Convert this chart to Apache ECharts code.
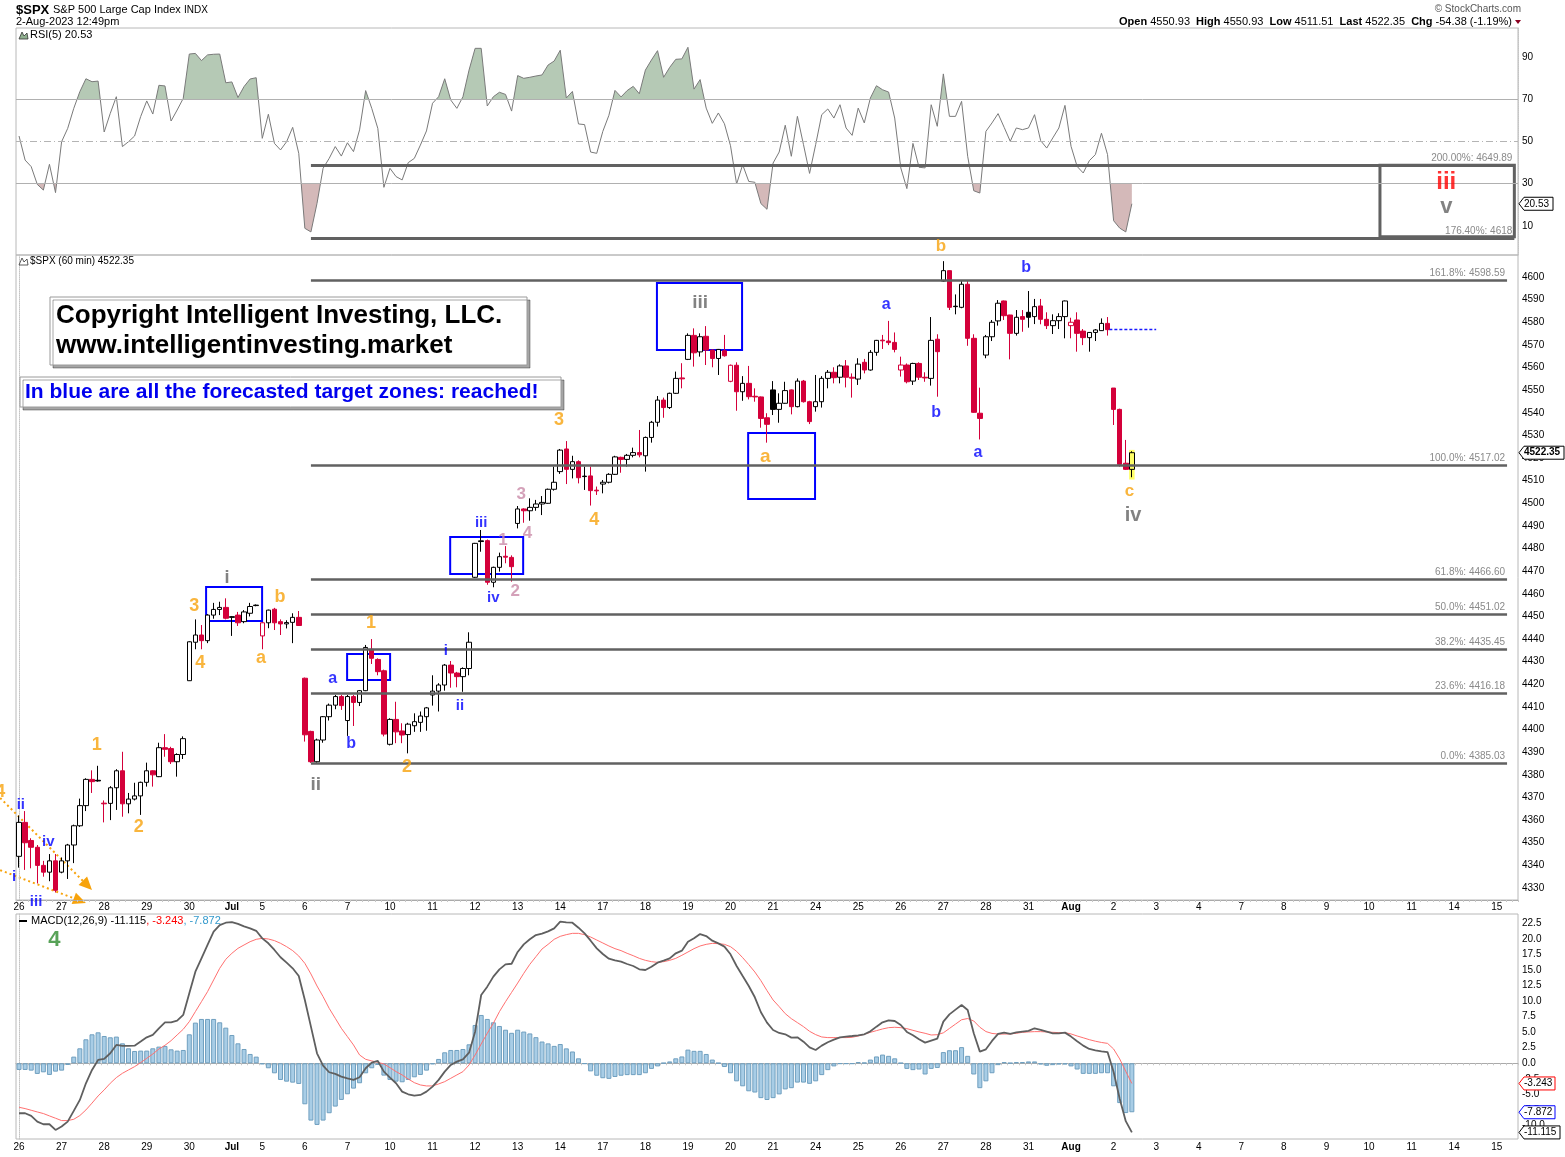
<!DOCTYPE html>
<html>
<head>
<meta charset="utf-8">
<title>$SPX 60 min</title>
<script src="https://cdn.jsdelivr.net/npm/echarts@6/dist/echarts.min.js"></script>
<style>
html,body{margin:0;padding:0;background:#fff;}
#chart{width:1565px;height:1157px;}
</style>
</head>
<body>
<div id="chart"></div>
<script>
// ================= DATA =================
const dayLabels = ['26','27','28','29','30','Jul','5','6','7','10','11','12','13','14','17','18','19','20','21','24','25','26','27','28','31','Aug','2','3','4','7','8','9','10','11','14','15'];
const dayBars   = [7,7,7,7,7,5,7,7,7,7,7,7,7,7,7,7,7,7,7,7,7,7,7,7,7,7,7,7,7,7,7,7,7,7,7,4];

const open = [
4344,4359,4351,4348,4340,4337,4342,4337,4342,4349,
4357.5,4366.4,4378,4377.6,4367.5,4367.4,4374.3,4381.8,4367.2,4369.3,
4370.7,4376.7,4381.8,4379.2,4392,4391.6,4385.8,4389,4421.6,4438.6,
4441.8,4439.3,4450.6,4453.1,4454,4449.9,4450.6,4447.7,4451.4,4455,
4441.4,4447.2,4453.2,4447.7,4446.7,4447.4,4449.6,4422.7,4399.2,4385.8,
4395.4,4405.7,4410.8,4414.6,4404,4414.6,4412,4417.2,4435.5,4431,
4426,4393.5,4404.5,4399.4,4397.8,4401.7,4403.2,4405.7,4415.3,4417,
4419.7,4428.5,4425,4423.4,4427,4467.3,4483.4,4483.5,4465.1,4471.7,
4476.6,4476.1,4491.1,4497.5,4496.7,4498.2,4499.7,4500,4506.2,4514,
4524,4515,4518.4,4512,4512.1,4505.8,4508.5,4509.3,4512.8,4520.3,
4519.4,4521.2,4522.4,4521,4529.1,4535.8,4545.6,4542.3,4548.6,4555.4,
4563.6,4574.2,4566.9,4573.8,4567.7,4564,4567.4,4553.9,4561,4549.3,
4553,4547.3,4547,4537.8,4550.1,4541.5,4544.2,4550.1,4542.7,4554,
4544.9,4542.7,4544.9,4555.2,4557.9,4555.7,4560.7,4555.7,4554.9,4562.3,
4558.9,4566.7,4572.1,4571.7,4571.1,4558.9,4561.1,4554,4561.8,4555.7,
4555.2,4572.5,4598.2,4602.8,4587.1,4586.6,4596.8,4572.9,4539.8,4565.5,
4573.6,4580.6,4589.4,4583.2,4575.1,4582.5,4584.4,4582.5,4587.2,4581.3,
4578.5,4580.7,4582.5,4578.5,4581,4576.1,4573.2,4575.5,4576.3,4579.5,
4550.93,4541.5,4517.7,4515];
const high = [
4362,4364,4352,4349,4342,4345,4345,4343.5,4349.5,4358,
4369.5,4378.5,4382,4384,4368.7,4375,4382.5,4390.2,4372,4376.5,
4377,4385.4,4382,4394.2,4398,4392.4,4389.5,4397,4439,4448.7,
4446.2,4451,4456,4456.5,4458,4450.2,4452,4452.8,4456,4455.3,
4447.5,4453,4453.8,4448.7,4448.3,4451.4,4452.4,4423,4399.5,4396,
4406,4411.5,4415.3,4415.3,4415.3,4415.3,4417.5,4437.4,4440,4431.5,
4426.5,4405,4412.3,4402.8,4403,4407.2,4408,4410,4424,4420.5,
4429,4430.3,4425.5,4427.5,4443,4482.5,4488.2,4484,4472,4478.2,
4481.1,4477,4498.8,4497.8,4502.2,4501.5,4503.2,4506.5,4516.2,4524,
4527.5,4521,4519,4516.2,4516.2,4507.4,4510.3,4513.3,4521,4520.6,
4521.8,4524.6,4532.4,4529.5,4536.4,4547.4,4546.7,4548.9,4558.2,4561.9,
4575.1,4577.3,4575.1,4578.3,4568,4568.2,4574.4,4561.3,4562.3,4556.2,
4560.7,4550.8,4547.2,4539.8,4554,4548.6,4553.7,4550.3,4555.2,4554.5,
4545.3,4556.7,4556.2,4558.9,4560.1,4561.4,4563.3,4557.4,4564.1,4563.8,
4567.7,4572.2,4574.4,4580.6,4575.5,4564.8,4561.8,4562.1,4562.3,4557.9,
4582.3,4574.7,4607,4603,4592.3,4598.2,4598.2,4574.7,4551.1,4574.4,
4581,4589.8,4589.6,4583.3,4585.4,4585.4,4593.8,4590.3,4590.3,4584.4,
4583.5,4584,4589.6,4582,4584.4,4577,4575.7,4577,4581.7,4582.3,
4550.93,4541.8,4528,4523];
const low = [
4339,4338,4338.7,4332,4335,4333,4328,4336.5,4334,4341,
4357,4364,4372,4377,4359,4360,4364.5,4361.5,4363,4368.7,
4362.3,4374.8,4374.8,4379,4388,4384.8,4379.2,4387,4421.5,4435.5,
4435.5,4438.2,4449,4450.6,4448.7,4441.4,4445.8,4447,4450,4454.5,
4435.5,4444.8,4444,4441.8,4444.7,4438.2,4445.8,4394.7,4385.3,4385.3,
4394.2,4404,4409,4408.7,4397.2,4401.6,4410.4,4417,4429,4424,
4397,4393,4394,4394,4389.5,4399,4399,4399.5,4410.6,4408,
4417.2,4418.5,4418.7,4416.7,4424,4467,4478.6,4464,4462.9,4469.8,
4473.5,4465.4,4488.9,4491.4,4492.3,4496.7,4494.8,4499.8,4505.6,4513,
4508.5,4511,4508.8,4505.9,4499,4503.7,4504.4,4508.8,4512.5,4513.5,
4516.2,4520.3,4520.3,4514,4526.8,4533.9,4537.8,4541.7,4548.3,4550.8,
4563.3,4560.4,4564.8,4561.1,4560.1,4556.7,4564.8,4553.5,4540.9,4545.3,
4545.9,4544.9,4533.4,4526.8,4539,4535.6,4544,4539.3,4542.4,4544.5,
4535,4540.5,4542.3,4550.8,4553,4553,4551.2,4546.7,4552.3,4557.4,
4558.6,4565.2,4568.2,4569.9,4566.7,4556,4553,4552.3,4554.5,4553.7,
4552,4547.1,4597.9,4585.4,4583.5,4586.2,4569.6,4540,4528.2,4564.1,
4571.7,4578.5,4581,4563.6,4574.1,4575.8,4577.6,4579.2,4579.1,4577,
4574.8,4577,4572.9,4572.9,4567,4569.9,4567,4571.7,4576.2,4574.1,
4534.6,4516.2,4514.7,4511.51];
const close = [
4359,4350,4348,4340,4337,4342,4329,4342,4349,4357.5,
4366.4,4378,4377,4377.3,4367.2,4374.3,4381.8,4367.2,4369.3,4370.7,
4376.7,4381.8,4380,4392,4391.3,4385.8,4389,4396,4438.8,4441.8,
4439.3,4450.6,4453.1,4454,4449.2,4449.6,4447.2,4452,4454.4,4454.8,
4447.2,4452.8,4447.2,4446.7,4447.3,4449.6,4446,4397.7,4385.8,4395.4,
4405.7,4410.8,4414.6,4410.6,4414.6,4412,4417.2,4436.3,4431.5,4425.6,
4398,4404.5,4399,4397.6,4402.4,4403.5,4406,4409.6,4417,4419.7,
4428.5,4425,4423.4,4427,4438.6,4482.3,4483.1,4465.1,4471.7,4476.4,
4476.2,4472,4497.5,4496.7,4498.2,4499.7,4500.4,4506.2,4509.3,4523.5,
4515,4518.4,4511.3,4511.8,4505.6,4505.5,4509.3,4512.8,4520.5,4519.4,
4521.2,4522.4,4521.4,4529.1,4535.8,4545.6,4542.3,4548.6,4555.2,4555.0,
4574.2,4566.5,4573.6,4567.7,4564,4568,4565.2,4561,4549.3,4553,
4547.1,4547.0,4537.5,4534.9,4541.5,4544.2,4549.8,4542.7,4554,4544.9,
4536.1,4544.9,4555.2,4557.9,4555.5,4560.7,4555.7,4555.3,4561.5,4558.9,
4566.7,4572,4571.8,4571,4568,4561.1,4553.7,4561.8,4555.7,4555.4,
4572,4567,4602.8,4586.6,4586.9,4596.8,4572.9,4540.2,4537.5,4573.6,
4580,4588.4,4582.9,4575.1,4582.2,4581.3,4582.2,4586.9,4581.3,4578.5,
4580.7,4582.5,4589.4,4580,4575.1,4573.2,4575.5,4576.6,4579.5,4576.73,
4541.5,4517.2,4515,4522.35];

const rsi = [
52.6,41.2,38.1,29.7,27.0,39.2,25.8,49.9,56.2,65.7,
73.6,79.7,78.3,78.6,54.5,63.3,71.2,47.6,49.9,52.6,
61.8,69.2,63.0,76.6,76.3,59.7,64.9,70.4,91.4,91.7,
88.3,91.0,91.3,91.4,77.8,78.2,70.8,76.0,79.6,80.2,
51.5,62.9,49.1,46.0,49.9,56.7,44.4,8.9,7.2,20.7,
37.3,42.0,47.6,43.1,49.4,45.2,55.5,74.1,65.7,56.2,
28.3,37.3,33.4,31.8,40.0,42.0,48.3,55.0,68.1,71.2,
79.7,69.6,65.7,71.2,83.8,94.1,94.1,66.8,71.2,73.3,
72.3,64.4,81.2,79.9,80.4,81.0,81.5,86.2,88.1,93.2,
70.6,73.7,58.3,58.0,45.0,44.4,54.8,62.4,74.2,71.1,
74.1,76.1,72.6,83.8,88.6,93.0,80.4,85.1,88.9,89.1,
94.6,74.8,79.3,65.8,58.6,63.5,58.4,48.0,29.9,39.0,
31.1,30.7,20.6,17.9,39.8,45.0,57.7,43.0,61.9,48.5,
34.9,48.5,62.7,65.4,61.1,67.4,56.4,52.9,65.8,58.8,
70.6,76.4,74.5,73.4,61.1,37.5,27.7,49.1,37.8,37.5,
67.4,57.2,82.0,61.9,61.9,69.0,43.0,26.7,25.6,54.8,
58.8,63.2,56.7,50.1,56.4,55.6,56.4,62.7,50.4,46.9,
51.7,56.4,67.1,47.7,38.2,35.1,40.9,43.8,53.9,43.8,
12.5,9.0,7.2,20.53];

const macd = [
-8.03,-8.03,-8.46,-9.37,-9.80,-9.80,-10.71,-10.17,-9.37,-7.65,
-5.89,-3.21,-1.07,0.54,0.70,1.61,2.95,2.79,2.79,2.84,
3.49,4.18,4.56,5.63,6.59,6.59,6.86,7.77,11.25,14.73,
16.88,19.02,21.16,22.2,22.6,22.7,22.4,22.0,21.7,21.3,
20.09,19.29,18.22,17.04,16.18,15.27,14.04,10.18,5.90,1.61,
-0.37,-1.44,-1.71,-2.14,-2.41,-2.67,-2.25,-0.80,0.11,0.38,
-1.34,-2.30,-3.21,-4.55,-4.98,-5.20,-5.09,-4.55,-3.75,-2.67,
-1.34,-0.27,0.27,0.64,1.71,5.09,10.98,12.32,13.93,15.1,
15.9,16.0,17.9,19.12,19.93,20.62,20.84,21.21,21.69,22.77,
22.66,22.60,21.80,20.89,19.71,18.48,17.57,16.82,16.55,16.34,
15.96,15.64,15.11,15.0,15.53,16.18,16.50,16.87,17.68,18.11,
19.55,20.09,20.78,20.46,19.71,19.28,18.75,17.52,15.64,14.03,
12.43,10.61,8.20,6.54,5.36,4.88,4.66,4.13,4.18,3.48,
2.57,2.14,2.84,3.38,3.80,4.18,4.29,4.39,4.50,4.66,
5.14,5.89,6.59,6.91,6.80,6.16,5.04,4.50,3.86,3.32,
3.64,3.96,6.70,7.87,8.63,9.37,8.57,4.82,1.88,2.25,
3.59,4.72,4.93,4.72,4.98,5.09,5.20,5.63,5.36,5.09,
4.82,4.82,4.93,4.29,3.54,2.84,2.30,2.09,1.93,1.8,
-1.4,-5.7,-9.3,-11.115];

const signal = [
-7.07,-7.28,-7.55,-7.82,-8.08,-8.46,-8.83,-9.21,-9.21,-9.0,
-8.4,-7.5,-6.4,-5.25,-4.28,-3.21,-2.30,-1.61,-1.07,-0.54,
0.11,0.80,1.50,2.30,2.89,3.64,4.56,5.47,6.70,8.31,
9.91,11.52,13.40,15.27,16.72,17.68,18.48,19.02,19.55,19.93,
20.09,19.98,19.72,19.29,18.75,18.11,17.25,16.07,14.36,12.43,
10.72,8.84,7.24,5.63,4.29,2.95,1.34,0.64,0.38,0.16,
-0.11,-0.70,-1.34,-1.87,-2.52,-3.11,-3.48,-3.64,-3.64,-3.32,
-2.95,-2.41,-1.87,-1.34,-0.27,1.34,3.11,4.82,6.43,8.3,
9.9,11.4,12.9,14.46,15.91,17.14,18.37,19.12,19.93,20.41,
20.68,20.89,20.89,20.68,20.30,19.82,19.34,18.86,18.43,18.11,
17.68,17.30,16.87,16.55,16.34,16.23,16.34,16.55,16.87,17.36,
17.89,18.43,18.86,19.12,19.28,19.23,19.12,18.75,18.0,16.98,
15.86,14.68,13.28,11.68,10.18,9.11,7.98,7.18,6.54,5.89,
5.14,4.61,4.23,4.13,4.13,4.13,4.13,4.18,4.39,4.66,
4.98,5.25,5.52,5.73,5.79,5.73,5.57,5.30,5.04,4.82,
4.55,4.6,4.9,5.6,6.3,7.0,7.2,6.8,5.8,5.1,
4.8,4.7,4.7,4.72,4.82,4.98,5.04,5.09,5.09,5.04,
4.98,4.93,4.93,4.72,4.39,4.1,3.8,3.55,3.35,3.2,
2.3,0.7,-1.3,-3.243];

const hist = [
-1.07,-1.07,-1.18,-1.71,-1.45,-1.87,-1.34,-1.18,-0.27,1.07,
2.41,3.86,4.66,4.98,4.39,4.18,4.29,3.21,2.41,1.98,
2.04,2.04,2.41,2.68,2.79,2.25,2.04,2.14,4.66,6.54,
7.13,7.13,7.13,6.59,5.73,4.55,3.21,2.30,1.50,1.07,
-0.16,-0.80,-1.61,-2.68,-2.95,-3.11,-3.32,-6.59,-9.21,-9.91,
-9.21,-8.03,-6.96,-5.89,-4.98,-4.07,-3.21,-1.61,-0.80,-0.27,
-1.98,-2.68,-2.95,-3.05,-2.68,-2.25,-1.87,-1.18,-0.16,0.70,
1.77,2.14,2.14,2.30,3.05,6.16,7.77,7.13,6.59,6.0,
5.4,4.9,5.4,5.1,4.8,4.2,3.5,3.2,2.8,3.1,
2.4,1.9,0.8,-0.1,-1.3,-2.0,-2.4,-2.5,-2.2,-2.0,
-1.9,-1.9,-1.9,-1.6,-0.9,-0.5,0.05,0.3,0.8,1.1,
2.2,2.0,2.0,1.5,0.6,0.05,-0.6,-1.6,-2.9,-3.7,
-4.5,-4.7,-5.6,-5.9,-5.6,-5.0,-4.2,-4.0,-3.1,-3.1,
-3.3,-2.9,-1.9,-1.1,-0.5,-0.1,-0.1,-0.1,0.2,0.1,
0.6,1.1,1.4,1.2,0.8,0.05,-0.9,-1.1,-1.0,-1.8,
-0.9,-0.75,1.8,2.1,2.1,2.6,1.2,-1.8,-4.0,-2.9,
-1.6,-0.3,0.2,0.05,0.2,0.2,0.3,0.3,-0.2,-0.4,
-0.3,-0.2,-0.2,-0.5,-1.0,-1.7,-1.7,-1.7,-1.6,-1.6,
-3.7,-6.4,-8.0,-7.872];

const rsiTicks   = [10,30,50,70,90];
const priceTicks = [4330,4340,4350,4360,4370,4380,4390,4400,4410,4420,4430,4440,4450,4460,4470,4480,4490,4500,4510,4520,4530,4540,4550,4560,4570,4580,4590,4600];
const macdTicks  = [-10,-7.5,-5,-2.5,0,2.5,5,7.5,10,12.5,15,17.5,20,22.5];

const fibLevels = [
  {pct:'161.8%', v:4598.59},{pct:'100.0%', v:4517.02},{pct:'61.8%', v:4466.60},
  {pct:'50.0%', v:4451.02},{pct:'38.2%', v:4435.45},{pct:'23.6%', v:4416.18},{pct:'0.0%', v:4385.03}];
const fibExt = [{pct:'200.00%', v:4649.89},{pct:'176.40%', v:4618}];
const prevClose = 4576.73;
const lastRsi = 20.53, lastPrice = 4522.35, lastMacd = -11.115, lastSignal = -3.243, lastHist = -7.872;
const rsiUpper = 70, rsiLower = 30;

// ================= ANNOTATIONS (bar index, value) =================
const ORANGE='#f7a30c', BLUE='#0000ff', GRAY='#636363', MAUVE='#c98aa8', GREEN='#2e8b2e', REDT='#ff0000';
const priceLabels = [
  {t:'4',x:-3.1,y:4372.4,c:ORANGE,s:18},{t:'1',x:12.8,y:4393.2,c:ORANGE,s:18},{t:'2',x:19.7,y:4357.0,c:ORANGE,s:18},
  {t:'3',x:28.8,y:4454.6,c:ORANGE,s:18},{t:'4',x:29.8,y:4429.4,c:ORANGE,s:18},{t:'b',x:42.9,y:4458.6,c:ORANGE,s:18},
  {t:'a',x:39.8,y:4431.6,c:ORANGE,s:18},{t:'1',x:57.9,y:4447.1,c:ORANGE,s:18},{t:'2',x:63.8,y:4383.5,c:ORANGE,s:18},
  {t:'3',x:88.8,y:4536.8,c:ORANGE,s:18},{t:'4',x:94.6,y:4492.6,c:ORANGE,s:18},{t:'a',x:122.7,y:4520.5,c:ORANGE,s:19},
  {t:'b',x:151.6,y:4613.7,c:ORANGE,s:17},{t:'c',x:182.6,y:4505.4,c:ORANGE,s:17},
  {t:'ii',x:0.3,y:4366.7,c:BLUE,s:15},{t:'iv',x:4.8,y:4350.3,c:BLUE,s:15},{t:'i',x:-0.8,y:4334.9,c:BLUE,s:15},
  {t:'iii',x:2.8,y:4323.8,c:BLUE,s:15},{t:'a',x:51.6,y:4422.4,c:BLUE,s:16},{t:'b',x:54.6,y:4393.6,c:BLUE,s:16},
  {t:'i',x:70.2,y:4434.7,c:BLUE,s:15},{t:'ii',x:72.5,y:4410.4,c:BLUE,s:15},{t:'iii',x:76.0,y:4491.3,c:BLUE,s:15},
  {t:'iv',x:78.0,y:4458.2,c:BLUE,s:15},{t:'a',x:142.6,y:4587.6,c:BLUE,s:16},{t:'b',x:150.8,y:4540.3,c:BLUE,s:16},
  {t:'a',x:157.7,y:4522.2,c:BLUE,s:16},{t:'b',x:165.6,y:4604.0,c:BLUE,s:16},
  {t:'i',x:34.2,y:4467.0,c:GRAY,s:18},{t:'ii',x:48.8,y:4375.5,c:GRAY,s:19},{t:'iii',x:112.0,y:4588.5,c:GRAY,s:19},
  {t:'iv',x:183.2,y:4494.8,c:GRAY,s:20},
  {t:'3',x:82.6,y:4504.1,c:MAUVE,s:17},{t:'4',x:83.6,y:4486.9,c:MAUVE,s:17},{t:'1',x:79.6,y:4483.8,c:MAUVE,s:17},
  {t:'2',x:81.6,y:4461.3,c:MAUVE,s:17}
];
const macdLabels = [{t:'4',x:5.8,y:19.8,c:GREEN,s:22}];
const rsiExtLabels = [{t:'iii',x:234.7,y:4642.4,c:REDT,s:24},{t:'v',x:234.7,y:4631.8,c:GRAY,s:22}];
const targetBoxes = [[30.76,4463.0,39.97,4448.0],[53.95,4433.4,61.02,4421.9],[70.9,4485.1,82.9,4468.8],[104.9,4597.3,118.9,4567.7],[119.9,4531.1,130.9,4501.9]];
const extBox = [223.8,4649.9,245.9,4618.6];
const arrows = [[-3.1,4369.8,12.0,4329.1],[-3.1,4337.9,11.0,4323.4]];

// ================= BUILD =================
const FONT = '"Liberation Sans", Arial, Helvetica, sans-serif';
const cats = []; const dayStart = {};
dayLabels.forEach((d, di) => { for (let k = 0; k < dayBars[di]; k++) { if (k === 0) dayStart[cats.length] = d; cats.push(di + '_' + k); } });
const N = cats.length;
const CRED = '#d4003a';

const candleData = open.map((o, i) => {
  const c = close[i]; const prev = i > 0 ? close[i - 1] : o;
  const stroke = c >= prev ? '#000' : CRED;
  let fill = c >= o ? '#fff' : stroke;
  if (i === open.length - 1) fill = '#ffff66';
  return {value: [o, c, low[i], high[i]], itemStyle: {color: fill, color0: fill, borderColor: stroke, borderColor0: stroke, borderWidth: 1}};
});

const GL = 16, GR = 47;
const labelSeries = (arr, xi, yi) => ({
  type: 'scatter', xAxisIndex: xi, yAxisIndex: yi, symbolSize: 1, clip: false, silent: true, z: 20,
  itemStyle: {color: 'rgba(0,0,0,0)'},
  label: {show: true, position: 'inside', fontWeight: 'bold', fontFamily: FONT, formatter: p => p.data.t},
  data: arr.map(a => ({value: [a.x, a.y], t: a.t, label: {color: a.c, fontSize: a.s}}))
});
const dayAxisLabel = (margin) => ({
  interval: (i) => dayStart[i] !== undefined,
  formatter: (v, i) => { const d = dayStart[i]; return (d === 'Jul' || d === 'Aug') ? '{b|' + d + '}' : d; },
  fontSize: 10, color: '#000', margin: margin, fontFamily: FONT,
  rich: {b: {fontWeight: 'bold', fontSize: 10, fontFamily: FONT}}
});
const catAxis = (g, show, margin) => ({
  type: 'category', gridIndex: g, data: cats, boundaryGap: true, show: show,
  axisLine: {show: true, lineStyle: {color: '#aaa'}},
  axisTick: {show: true, interval: 0, length: 2, lineStyle: {color: '#c8c8c8'}},
  axisLabel: dayAxisLabel(margin), splitLine: {show: false}
});
const valX = (g) => ({type: 'value', gridIndex: g, min: -0.5, max: N - 0.5, show: false});
const rightY = (g, min, max, ticks, fmt) => ({
  type: 'value', gridIndex: g, position: 'right', min: min, max: max,
  axisLine: {show: true, lineStyle: {color: '#c4c4c4', type: 'dotted'}},
  axisTick: {show: false},
  axisLabel: {customValues: ticks, fontSize: 10, color: '#000', margin: 4, fontFamily: FONT, formatter: fmt},
  splitLine: {show: false}
});

const fibLine = (f, x0, x1) => [
  {coord: [x0, f.v], label: {show: true, position: 'insideEndTop', formatter: f.pct + ': ' + f.v.toFixed(2), color: '#8a8a8a', fontSize: 10, fontFamily: FONT, distance: 2}},
  {coord: [x1, f.v]}];

const option = {
  animation: false,
  backgroundColor: '#fff',
  textStyle: {fontFamily: FONT},
  grid: [
    {left: GL, right: GR, top: 28, height: 227, show: true, borderColor: '#b8b8b8', borderWidth: 1},
    {left: GL, right: GR, top: 255, height: 645, show: true, borderColor: '#b8b8b8', borderWidth: 1},
    {left: GL, right: GR, top: 914, height: 225, show: true, borderColor: '#b8b8b8', borderWidth: 1},
    {left: GL, right: GR, top: 28, height: 227, show: false}
  ],
  xAxis: [
    catAxis(0, false, 2), catAxis(1, true, 2), catAxis(2, true, 3),
    valX(1), valX(2), valX(3)
  ],
  yAxis: [
    rightY(0, -3.73, 103.73, rsiTicks, v => String(v)),
    rightY(1, 4324.70, 4609.72, priceTicks, v => String(v)),
    rightY(2, -12.17, 24.0, macdTicks, v => v.toFixed(1)),
    {type: 'value', gridIndex: 3, min: 4610.6, max: 4710.03, show: false}
  ],
  series: [
    {id: 'rsiUp', type: 'line', xAxisIndex: 0, yAxisIndex: 0, data: rsi, symbol: 'none', silent: true, z: 1,
     lineStyle: {width: 0, opacity: 0}, areaStyle: {opacity: 0, origin: 'start'}},
    {id: 'rsiDn', type: 'line', xAxisIndex: 0, yAxisIndex: 0, data: rsi, symbol: 'none', silent: true, z: 1,
     lineStyle: {width: 0, opacity: 0}, areaStyle: {opacity: 0, origin: 'end'}},
    {type: 'line', xAxisIndex: 0, yAxisIndex: 0, data: rsi, symbol: 'none', silent: true, z: 3,
     lineStyle: {color: '#7a7a7a', width: 1},
     markLine: {silent: true, symbol: 'none', label: {show: false}, animation: false,
       lineStyle: {color: '#b0b0b0', width: 1, type: 'solid'},
       data: [{yAxis: rsiUpper}, {yAxis: rsiLower}, {yAxis: 50, lineStyle: {type: [7, 3, 1, 3], color: '#b4b4b4'}}]}},
    {type: 'candlestick', xAxisIndex: 1, yAxisIndex: 1, data: candleData, barWidth: 5, z: 4, silent: true},
    {type: 'line', xAxisIndex: 3, yAxisIndex: 1, data: [], z: 1, silent: true, clip: false,
     markArea: {silent: true, itemStyle: {color: '#ffff66'}, data: [[{coord: [182.55, 4510.5]}, {coord: [183.45, 4523.6]}]]}},
    {type: 'line', xAxisIndex: 3, yAxisIndex: 1, data: [], z: 5, silent: true, clip: false,
     markLine: {silent: true, animation: false, symbol: 'none',
       lineStyle: {color: '#616161', width: 2.5, type: 'solid'},
       data: fibLevels.map(f => fibLine(f, 48, 244.7))},
     markArea: {silent: true, itemStyle: {color: 'rgba(0,0,0,0)', borderColor: BLUE, borderWidth: 2},
       data: targetBoxes.map(b => [{coord: [b[0], b[1]]}, {coord: [b[2], b[3]]}])}},
    {type: 'line', xAxisIndex: 3, yAxisIndex: 1, data: [], z: 6, silent: true, clip: false,
     markLine: {silent: true, animation: false, symbol: 'none', label: {show: false},
       lineStyle: {color: '#1a1aff', width: 1.3, type: [3, 2]},
       data: [[{coord: [179.3, prevClose]}, {coord: [187, prevClose]}]]}},
    labelSeries(priceLabels, 3, 1),
    {type: 'bar', xAxisIndex: 2, yAxisIndex: 2, data: hist, barWidth: 5, silent: true, z: 2,
     itemStyle: {color: '#a8cde6', borderColor: '#6f9fbf', borderWidth: 1}},
    {type: 'line', xAxisIndex: 2, yAxisIndex: 2, data: signal, symbol: 'none', silent: true, z: 3,
     lineStyle: {color: '#ff7070', width: 1}},
    {type: 'line', xAxisIndex: 2, yAxisIndex: 2, data: macd, symbol: 'none', silent: true, z: 4,
     lineStyle: {color: '#5f5f5f', width: 1.8}},
    labelSeries(macdLabels, 4, 2),
    {type: 'line', xAxisIndex: 5, yAxisIndex: 3, data: [], z: 5, silent: true, clip: false,
     markLine: {silent: true, animation: false, symbol: 'none',
       lineStyle: {color: '#616161', width: 3, type: 'solid'},
       data: fibExt.map(f => [
         {coord: [48, f.v], label: {show: true, position: 'insideEndTop', formatter: f.pct + ': ' + (f.v % 1 ? f.v.toFixed(2) : String(f.v)), color: '#8a8a8a', fontSize: 10, fontFamily: FONT, distance: 2}},
         {coord: [245.9, f.v]}])},
     markArea: {silent: true, itemStyle: {color: 'rgba(0,0,0,0)', borderColor: '#616161', borderWidth: 3},
       data: [[{coord: [extBox[0], extBox[1]]}, {coord: [extBox[2], extBox[3]]}]]}},
    labelSeries(rsiExtLabels, 5, 3)
  ]
};

const chart = echarts.init(document.getElementById('chart'), null, {renderer: 'canvas', width: 1565, height: 1157});
chart.setOption(option);

// ---- RSI overbought / oversold fills: hard-stop gradients placed at the axis pixels of 70 / 30
const yPix = (axis, v) => chart.convertToPixel({yAxisIndex: axis}, v);
const xPix = (axis, v) => chart.convertToPixel({xAxisIndex: axis}, v);
const rsiTop = yPix(0, 103.73), rsiBot = yPix(0, -3.73);
const yUp = yPix(0, rsiUpper), yDn = yPix(0, rsiLower);
const GUP = '#b5c9b5', GDN = '#d4b9b9', TR = 'rgba(255,255,255,0)';
const fUp = (yUp - rsiTop) / (rsiBot - rsiTop), fDn = (yDn - rsiTop) / (rsiBot - rsiTop);
chart.setOption({series: [
  {id: 'rsiUp', areaStyle: {opacity: 1, origin: 'start', color: {type: 'linear', global: true, x: 0, y: rsiTop, x2: 0, y2: rsiBot,
    colorStops: [{offset: 0, color: GUP}, {offset: fUp, color: GUP}, {offset: fUp, color: TR}, {offset: 1, color: TR}]}}},
  {id: 'rsiDn', areaStyle: {opacity: 1, origin: 'end', color: {type: 'linear', global: true, x: 0, y: rsiTop, x2: 0, y2: rsiBot,
    colorStops: [{offset: 0, color: TR}, {offset: fDn, color: TR}, {offset: fDn, color: GDN}, {offset: 1, color: GDN}]}}}
]});

// ================= GRAPHIC OVERLAYS =================
const T = (x, y, text, font, fill, align) => ({type: 'text', x: x, y: y, z: 100, zlevel: 1,
  style: {text: text, font: font, fill: fill || '#000', textAlign: align || 'left', align: align || 'left', textVerticalAlign: 'middle', verticalAlign: 'middle'}});
const tag = (axis, v, text, border, bold, w) => {
  const y = yPix(axis, v); const x0 = 1519;
  return {type: 'group', z: 100, zlevel: 1, children: [
    {type: 'polygon', z: 100, zlevel: 1, shape: {points: [[x0, y], [x0 + 5, y - 6.5], [x0 + w, y - 6.5], [x0 + w, y + 6.5], [x0 + 5, y + 6.5]]},
     style: {fill: '#fff', stroke: border, lineWidth: 1}},
    {type: 'text', z: 101, zlevel: 1, x: x0 + 5, y: y, style: {text: text, font: (bold ? 'bold ' : '') + '10px ' + FONT, fill: '#000', verticalAlign: 'middle', textVerticalAlign: 'middle'}}
  ]};
};
// wedge arrows (orange dotted), endpoints given in bar-index / price space
const arrowGraphic = (a) => {
  const x1 = xPix(3, a[0]), y1 = yPix(1, a[1]), x2 = xPix(3, a[2]), y2 = yPix(1, a[3]);
  const dx = x2 - x1, dy = y2 - y1, L = Math.sqrt(dx * dx + dy * dy), ux = dx / L, uy = dy / L;
  const hl = 13, hw = 6, bx = x2 - ux * hl, by = y2 - uy * hl;
  return {type: 'group', z: 90, children: [
    {type: 'line', shape: {x1: x1, y1: y1, x2: bx, y2: by}, style: {stroke: ORANGE, lineWidth: 2, lineDash: [2, 3]}},
    {type: 'polygon', shape: {points: [[x2, y2], [bx - uy * hw, by + ux * hw], [bx + uy * hw, by - ux * hw]]}, style: {fill: ORANGE}}
  ]};
};
const g = [];
g.push(T(16, 10, '$SPX', 'bold 13px ' + FONT));
g.push(T(53, 10, 'S&P 500 Large Cap Index', '11px ' + FONT));
g.push(T(184, 10, 'INDX', '10px ' + FONT));
g.push(T(16, 22, '2-Aug-2023 12:49pm', '11px ' + FONT));
g.push(T(1521, 9, '\u00A9 StockCharts.com', '10px ' + FONT, '#555', 'right'));
g.push({type: 'text', x: 1512, y: 22, z: 100, style: {
  text: '{b|Open} 4550.93  {b|High} 4550.93  {b|Low} 4511.51  {b|Last} 4522.35  {b|Chg} -54.38 (-1.19%)',
  font: '11px ' + FONT, fill: '#000', textAlign: 'right', align: 'right', textVerticalAlign: 'middle', verticalAlign: 'middle',
  rich: {b: {fontWeight: 'bold', fontSize: 11, fontFamily: FONT}}}});
g.push({type: 'polygon', z: 100, shape: {points: [[1515, 20], [1521, 20], [1518, 24]]}, style: {fill: '#8b0020'}});
g.push({type: 'polygon', z: 100, shape: {points: [[19, 39], [22, 32], [24, 36], [27, 33], [28, 39]]}, style: {fill: '#8fb08f', stroke: '#333', lineWidth: 0.8}});
g.push(T(30, 35, 'RSI(5) ' + lastRsi.toFixed(2), '11px ' + FONT));
g.push({type: 'polygon', z: 100, shape: {points: [[19, 265], [22, 258], [24, 262], [27, 259], [28, 265]]}, style: {fill: '#fff', stroke: '#333', lineWidth: 0.8}});
g.push(T(30, 261, '$SPX (60 min) ' + lastPrice.toFixed(2), '10px ' + FONT));
g.push({type: 'rect', z: 100, shape: {x: 19, y: 920, width: 8, height: 2}, style: {fill: '#000'}});
g.push({type: 'text', x: 31, y: 921, z: 100, style: {
  text: 'MACD(12,26,9) ' + lastMacd.toFixed(3) + '{r|, ' + lastSignal.toFixed(3) + '}{c|, ' + lastHist.toFixed(3) + '}',
  font: '11px ' + FONT, fill: '#000', verticalAlign: 'middle', textVerticalAlign: 'middle',
  rich: {r: {fill: '#ff0000', color: '#ff0000', fontSize: 11, fontFamily: FONT}, c: {fill: '#3399cc', color: '#3399cc', fontSize: 11, fontFamily: FONT}}}});
g.push({type: 'rect', z: 99, zlevel: 1, shape: {x: 50, y: 297, width: 477, height: 68},
  style: {fill: '#fff', stroke: '#9a9a9a', lineWidth: 1, shadowColor: 'rgba(0,0,0,0.35)', shadowOffsetX: 3, shadowOffsetY: 3, shadowBlur: 0}});
g.push(T(56, 316, 'Copyright Intelligent Investing, LLC.', 'bold 26px ' + FONT));
g.push(T(56, 346, 'www.intelligentinvesting.market', 'bold 26px ' + FONT));
g.push({type: 'rect', z: 99, zlevel: 1, shape: {x: 20, y: 377, width: 541, height: 30},
  style: {fill: '#fff', stroke: '#9a9a9a', lineWidth: 1, shadowColor: 'rgba(0,0,0,0.35)', shadowOffsetX: 3, shadowOffsetY: 3, shadowBlur: 0}});
g.push(T(25, 392, 'In blue are all the forecasted target zones: reached!', 'bold 21px ' + FONT, '#0000ee'));
arrows.forEach(a => g.push(arrowGraphic(a)));
g.push(tag(0, lastRsi, lastRsi.toFixed(2), '#000', false, 34));
g.push(tag(1, lastPrice, lastPrice.toFixed(2), '#000', true, 45));
g.push(tag(2, lastSignal, lastSignal.toFixed(3), '#ff0000', false, 36));
g.push(tag(2, lastHist, lastHist.toFixed(3), '#0000ff', false, 36));
g.push(tag(2, lastMacd, lastMacd.toFixed(3), '#000', false, 41));
chart.setOption({graphic: g});
</script>
</body>
</html>
